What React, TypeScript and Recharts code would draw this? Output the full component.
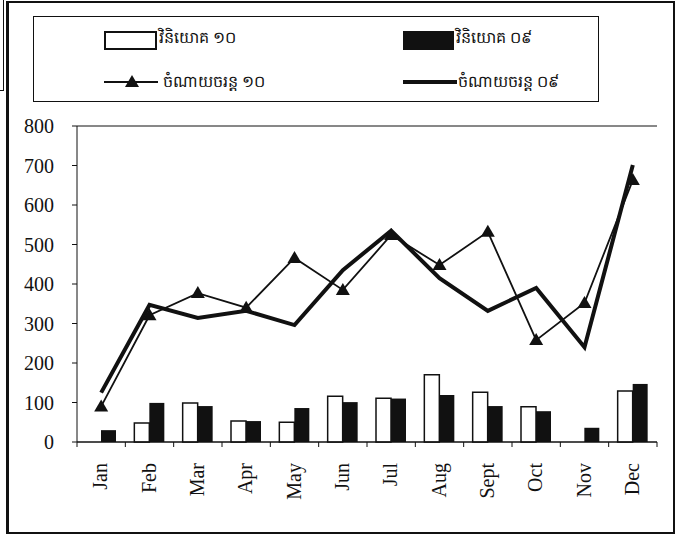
import React from 'react';
import { ComposedChart, Bar, Line, XAxis, YAxis, CartesianGrid } from 'recharts';

// Months along the x axis
const months = ['Jan', 'Feb', 'Mar', 'Apr', 'May', 'Jun', 'Jul', 'Aug', 'Sept', 'Oct', 'Nov', 'Dec'];

// Investment (bars)
const invest10 = [0, 48, 99, 53, 50, 116, 111, 170, 126, 89, 0, 129];
const invest09 = [30, 99, 91, 53, 86, 101, 110, 119, 91, 78, 36, 147];

// Current expenditure (lines)
const current10 = [90, 321, 377, 340, 466, 385, 524, 448, 532, 258, 352, 663];
const current09 = [125, 347, 314, 332, 296, 435, 535, 415, 332, 390, 240, 701];

const yTicks = [0, 100, 200, 300, 400, 500, 600, 700, 800];

const labels = {
  invest10: 'វិនិយោគ ១០',
  invest09: 'វិនិយោគ ០៩',
  current10: 'ចំណាយចរន្ត ១០',
  current09: 'ចំណាយចរន្ត ០៩',
};

const data = months.map((m, i) => ({
  month: m,
  invest10: invest10[i],
  invest09: invest09[i],
  current10: current10[i],
  current09: current09[i],
}));

const INK = '#111';
const SERIF = '"Liberation Serif", "Times New Roman", serif';

// plot area geometry
const PLOT_LEFT = 77;
const PLOT_RIGHT = 657;
const STEP = (PLOT_RIGHT - PLOT_LEFT) / months.length;

const Triangle = (props: any) => {
  const { cx, cy } = props;
  if (cx == null || cy == null) return null;
  return <path d={`M${cx},${cy - 7} L${cx + 7},${cy + 5} L${cx - 7},${cy + 5} Z`} fill={INK} />;
};

const MonthTick = (props: any) => {
  const { x, y, payload, index } = props;
  const axisY = y - 8;
  return (
    <g>
      <line x1={x - STEP / 2} y1={axisY} x2={x - STEP / 2} y2={axisY + 5} stroke={INK} />
      {index === months.length - 1 && (
        <line x1={x + STEP / 2} y1={axisY} x2={x + STEP / 2} y2={axisY + 5} stroke={INK} />
      )}
      <text
        transform={`translate(${x + 6},${axisY + 21}) rotate(-90)`}
        textAnchor="end"
        fontFamily={SERIF}
        fontSize={20}
        fill={INK}
      >
        {payload.value}
      </text>
    </g>
  );
};

const LegendBox = () => (
  <div
    style={{
      position: 'absolute',
      left: 33,
      top: 16,
      width: 564,
      height: 84,
      border: `1.5px solid ${INK}`,
      fontFamily: SERIF,
      fontSize: 16,
      color: INK,
    }}
  >
    <div style={{ position: 'absolute', left: 70, top: 14, width: 49, height: 15, border: `2px solid ${INK}`, background: '#fff' }} />
    <span style={{ position: 'absolute', left: 125, top: 10, whiteSpace: 'nowrap' }}>{labels.invest10}</span>

    <div style={{ position: 'absolute', left: 369, top: 14, width: 51, height: 19, background: INK }} />
    <span style={{ position: 'absolute', left: 422, top: 10, whiteSpace: 'nowrap' }}>{labels.invest09}</span>

    <svg style={{ position: 'absolute', left: 70, top: 56 }} width={54} height={16}>
      <line x1={0} y1={9} x2={54} y2={9} stroke={INK} strokeWidth={2} />
      <path d="M28,2 L35,14 L21,14 Z" fill={INK} />
    </svg>
    <span style={{ position: 'absolute', left: 129, top: 54, whiteSpace: 'nowrap' }}>{labels.current10}</span>

    <svg style={{ position: 'absolute', left: 369, top: 56 }} width={54} height={16}>
      <line x1={0} y1={9} x2={54} y2={9} stroke={INK} strokeWidth={4} />
    </svg>
    <span style={{ position: 'absolute', left: 424, top: 54, whiteSpace: 'nowrap' }}>{labels.current09}</span>
  </div>
);

export default function App() {
  return (
    <div style={{ position: 'absolute', left: 0, top: 0, width: 679, height: 535, background: '#fff', overflow: 'hidden' }}>
      {/* scan edge on the far left */}
      <div style={{ position: 'absolute', left: 0, top: 0, width: 3, height: 90, borderRight: `1px solid ${INK}`, borderBottom: `1px solid ${INK}` }} />
      {/* outer frame */}
      <div
        style={{
          position: 'absolute',
          left: 6,
          top: 1,
          width: 664,
          height: 529,
          borderTop: `2px solid ${INK}`,
          borderRight: `2px solid ${INK}`,
          borderBottom: `2px solid ${INK}`,
          borderLeft: `3px solid ${INK}`,
        }}
      />
      <LegendBox />
      <div style={{ position: 'absolute', left: 0, top: 0 }}>
        <ComposedChart
          width={679}
          height={535}
          data={data}
          margin={{ top: 126, right: 22, left: 17, bottom: 33 }}
          barGap={0}
        >
          <CartesianGrid vertical={false} stroke={INK} strokeWidth={1} />
          <XAxis
            dataKey="month"
            height={60}
            axisLine={{ stroke: INK }}
            tickLine={false}
            tick={<MonthTick />}
            interval={0}
          />
          <YAxis
            yAxisId="left"
            width={60}
            domain={[0, 800]}
            ticks={yTicks}
            interval={0}
            axisLine={{ stroke: INK }}
            tickLine={{ stroke: INK }}
            tickSize={5}
            tickMargin={18}
            tick={{ fill: INK, fontSize: 20, fontFamily: SERIF }}
          />
          <YAxis
            yAxisId="right"
            orientation="right"
            width={0}
            domain={[0, 800]}
            axisLine={{ stroke: INK }}
            tick={false}
            tickLine={false}
          />
          <Bar yAxisId="left" dataKey="invest10" barSize={15} fill="#fff" stroke={INK} strokeWidth={1.5} isAnimationActive={false} />
          <Bar yAxisId="left" dataKey="invest09" barSize={15} fill={INK} isAnimationActive={false} />
          <Line
            yAxisId="left"
            type="linear"
            dataKey="current10"
            stroke={INK}
            strokeWidth={1.8}
            dot={<Triangle />}
            activeDot={false}
            isAnimationActive={false}
          />
          <Line
            yAxisId="left"
            type="linear"
            dataKey="current09"
            stroke={INK}
            strokeWidth={4}
            dot={false}
            activeDot={false}
            isAnimationActive={false}
          />
        </ComposedChart>
      </div>
    </div>
  );
}
